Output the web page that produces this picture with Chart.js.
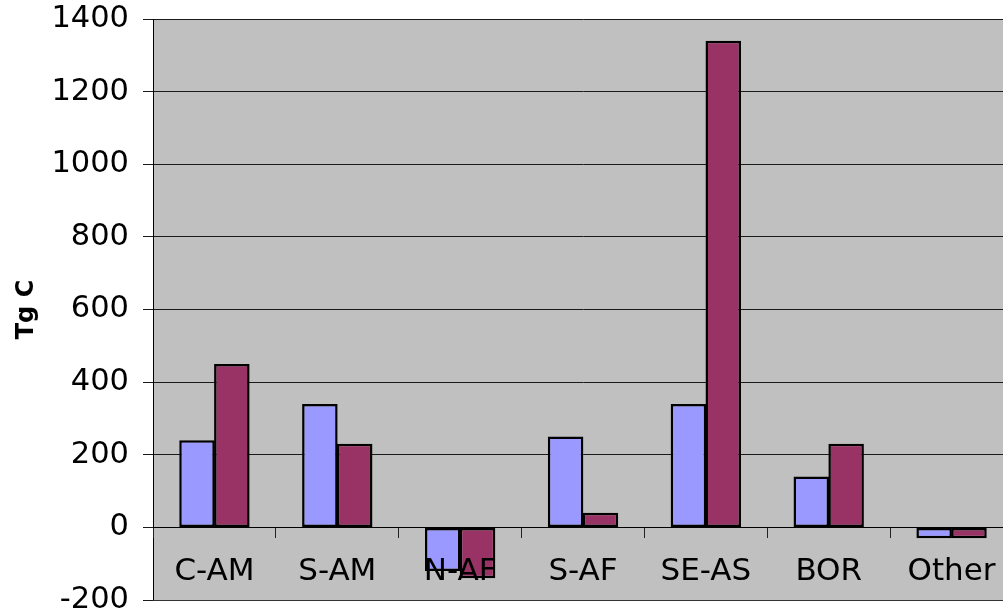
<!DOCTYPE html>
<html>
<head>
<meta charset="utf-8">
<script src="https://cdn.jsdelivr.net/npm/chart.js@4"></script>
<style>
  html, body { margin: 0; padding: 0; background: #fff; overflow: hidden; }
  #wrap { position: absolute; left: 0; top: 0; width: 1016px; height: 614px; }
</style>
</head>
<body>
<div id="wrap"><canvas id="c" width="1016" height="614"></canvas></div>
<script>
// Regions and the two carbon series (Tg C)
const regions = ['C-AM', 'S-AM', 'N-AF', 'S-AF', 'SE-AS', 'BOR', 'Other'];
const seriesA = [240, 340, -120, 250, 340, 140, -30];
const seriesB = [450, 230, -140, 40, 1340, 230, -30];
const yTicks = [-200, 0, 200, 400, 600, 800, 1000, 1200, 1400];

const FONT = 'DejaVu Sans, Verdana, sans-serif';

// Grey plot background with a thin frame
const plotFrame = {
  id: 'plotFrame',
  beforeDraw(chart) {
    const { ctx, chartArea: a } = chart;
    ctx.save();
    ctx.fillStyle = '#C0C0C0';
    ctx.fillRect(a.left, a.top, a.right - a.left, a.bottom - a.top);
    ctx.restore();
  },
  afterDraw(chart) {
    const { ctx, chartArea: a } = chart;
    ctx.save();
    ctx.strokeStyle = '#333';
    ctx.lineWidth = 1;
    ctx.beginPath();
    ctx.moveTo(a.left, a.bottom + 0.5);
    ctx.lineTo(a.right, a.bottom + 0.5);
    ctx.lineTo(a.right, a.top);
    ctx.stroke();
    ctx.restore();
  }
};

new Chart(document.getElementById('c'), {
  type: 'bar',
  data: {
    labels: regions,
    datasets: [
      { label: 'A', data: seriesA, backgroundColor: '#9999FF', borderColor: '#000', borderWidth: 2.5, borderSkipped: false, inflateAmount: 0 },
      { label: 'B', data: seriesB, backgroundColor: '#993366', borderColor: '#000', borderWidth: 2.5, borderSkipped: false, inflateAmount: 0 }
    ]
  },
  options: {
    responsive: false,
    animation: false,
    devicePixelRatio: 1,
    layout: { padding: { left: 0, right: 3, top: 19, bottom: 14 } },
    datasets: { bar: { categoryPercentage: 0.567, barPercentage: 1.02 } },
    plugins: { legend: { display: false }, tooltip: { enabled: false } },
    scales: {
      x: {
        position: { y: 0 },
        offset: true,
        grid: { z: 1, offset: true, drawOnChartArea: false, drawTicks: true, tickLength: 10, color: '#222', lineWidth: 1 },
        border: { z: 1, display: true, color: '#000', width: 1 },
        ticks: { z: 1, color: '#000', font: { family: FONT, size: 31 }, padding: 16, maxRotation: 0, autoSkip: false }
      },
      y: {
        min: -200,
        max: 1400,
        afterBuildTicks(scale) { scale.ticks = yTicks.map(v => ({ value: v })); },
        afterFit(scale) { scale.width = 153; scale.paddingTop = 0; scale.paddingBottom = 0; },
        grid: { color: '#1a1a1a', lineWidth: 1, drawTicks: true, tickLength: 10 },
        border: { display: true, color: '#000', width: 1 },
        ticks: { color: '#000', font: { family: FONT, size: 30.5 }, padding: 14, callback: v => String(v) },
        title: { display: true, text: 'Tg C', color: '#000', font: { family: FONT, size: 24, weight: 'bold' }, padding: { top: 12, bottom: 0 } }
      }
    }
  },
  plugins: [plotFrame]
});
</script>
</body>
</html>
